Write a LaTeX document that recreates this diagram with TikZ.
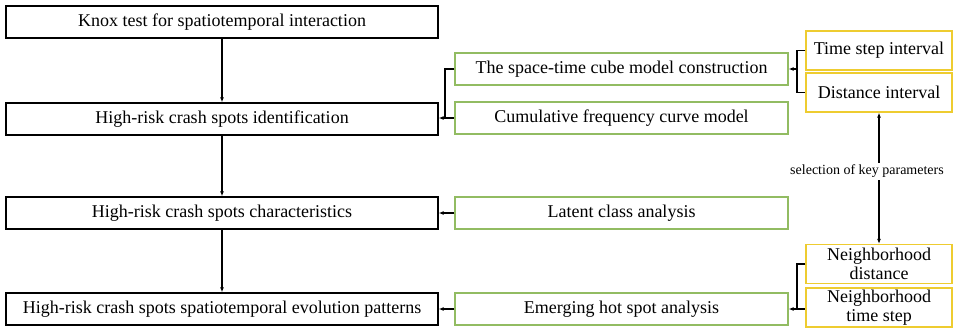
\documentclass[tikz,border=0pt]{standalone}
\usepackage{fontspec}
\setmainfont{Liberation Serif}
\usetikzlibrary{positioning, arrows.meta, calc}
\definecolor{cverde}{RGB}{146,188,98}
\definecolor{cama}{RGB}{238,204,48}

\begin{document}
\begin{tikzpicture}[x=1pt, y=-1pt, font=\fontsize{18}{19.5}\selectfont, >={Latex[length=5pt,width=4pt]},
    paso/.style={draw, line width=1.4pt, minimum width=432pt, minimum height=32pt, inner sep=0pt},
    metodo/.style={draw=cverde, line width=1.3pt, minimum width=333pt, minimum height=32pt, inner sep=0pt},
    param/.style={draw=cama, line width=1.3pt, minimum width=146pt, minimum height=39pt, inner sep=0pt, align=center},
    flecha/.style={->, line width=1.1pt}]

  \useasboundingbox (0,0) rectangle (955,333);

  % main steps
  \node[paso] (knox)  at (222,22)  {Knox test for spatiotemporal interaction};
  \node[paso] (ident) at (222,119) {High-risk crash spots identification};
  \node[paso] (carac) at (222,213) {High-risk crash spots characteristics};
  \node[paso] (evol)  at (222,309) {High-risk crash spots spatiotemporal evolution patterns};

  % methods
  \node[metodo] (cubo)   at (621.5,69)  {The space-time cube model construction};
  \node[metodo] (curva)  at (621.5,118) {Cumulative frequency curve model};
  \node[metodo] (latent) at (621.5,213) {Latent class analysis};
  \node[metodo] (ehsa)   at (621.5,309) {Emerging hot spot analysis};

  % key parameters
  \node[param] (tpaso) at (879,50.5)  {Time step interval};
  \node[param] (dint)  at (879,92.5)  {Distance interval};
  \node[param] (vdist) at (879,264)   {Neighborhood\\distance};
  \node[param] (vtpo)  at (879,307.5) {Neighborhood\\time step};

  \foreach \a/\b in {knox/ident, ident/carac, carac/evol}
    \draw[flecha] (\a.south) -- (\b.north);

  % brackets
  \coordinate (b1) at (445,118);
  \draw[line width=1.1pt] (cubo.west) -| (b1) -- (curva.west);
  \draw[flecha] (b1) -- (ident.east |- b1);

  \coordinate (b2) at (797,69);
  \draw[line width=1.1pt] (tpaso.west) -| (b2) |- (dint.west);
  \draw[flecha] (b2) -- (cubo.east);

  \coordinate (b3) at (797,309);
  \draw[line width=1.1pt] (vdist.west) -| (b3) -- (b3 -| vtpo.west);
  \draw[flecha] (b3) -- (ehsa.east |- b3);

  \draw[flecha] (latent.west) -- (carac.east);
  \draw[flecha] (ehsa.west) -- (evol.east);

  \draw[<->, line width=1.1pt] (dint.south) -- node[fill=white, xshift=-12pt, yshift=7pt, inner sep=2pt, font=\fontsize{14}{16}\selectfont]{selection of key parameters} (vdist.north);
\end{tikzpicture}
\end{document}
